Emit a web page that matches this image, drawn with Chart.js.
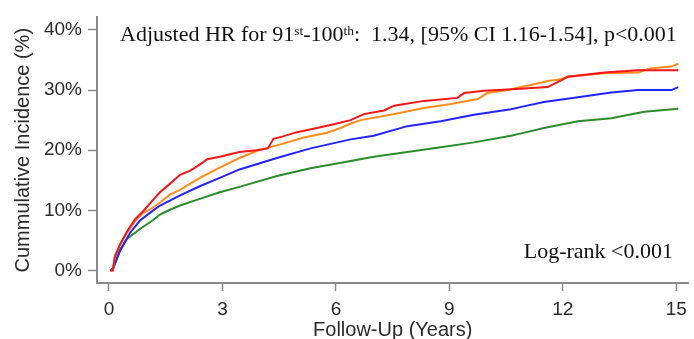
<!DOCTYPE html>
<html>
<head>
  <title>Cumulative incidence</title>
  <script src="https://cdn.jsdelivr.net/npm/chart.js"></script>
</head>
<body style="margin: 0; background: white;">
  <div style="width: 694px; height: 339px; position: relative;">
    <canvas id="kmChart"></canvas>
  </div>
  <script>
    // values (years, %)
    const redT = [0.03, 0.1, 0.16, 0.29, 0.47, 0.69, 0.91, 1.13, 1.35, 1.61, 1.88, 2.15, 2.4, 2.6, 2.93, 3.45, 3.9, 4.2, 4.35, 4.6, 4.97, 5.5, 5.94, 6.39, 6.74, 7.27, 7.54, 8.33, 9.21, 9.39, 9.92, 10.54, 11.6, 11.95, 12.13, 13.1, 13.99, 15.05];
    const redV = [0, 0, 2.4, 4.3, 6.4, 8.5, 9.9, 11.5, 13.0, 14.4, 15.9, 16.6, 17.6, 18.5, 18.9, 19.7, 20.0, 20.3, 21.9, 22.3, 23.0, 23.7, 24.3, 25.0, 26.0, 26.6, 27.4, 28.2, 28.7, 29.5, 29.9, 30.1, 30.5, 31.6, 32.2, 32.9, 33.3, 33.3];

    const orangeT = [0.03, 0.1, 0.16, 0.29, 0.47, 0.69, 0.91, 1.08, 1.35, 1.61, 1.88, 2.4, 2.93, 3.45, 3.92, 4.44, 5.15, 5.77, 6.12, 6.39, 6.65, 7.45, 8.33, 9.04, 9.75, 10.0, 10.54, 11.42, 11.6, 11.95, 12.13, 13.1, 14.0, 14.3, 14.87, 15.05];
    const orangeV = [0, 0, 2.3, 4.2, 6.2, 8.2, 9.6, 10.1, 11.3, 12.6, 13.4, 15.4, 17.1, 18.7, 19.9, 20.8, 22.1, 22.9, 23.7, 24.4, 25.0, 25.9, 27.0, 27.7, 28.5, 29.5, 30.0, 31.2, 31.5, 31.8, 32.2, 32.8, 32.9, 33.6, 33.9, 34.4];

    const blueT = [0.05, 0.12, 0.29, 0.55, 0.82, 1.17, 1.35, 1.61, 1.88, 2.4, 2.93, 3.45, 4.44, 5.33, 6.39, 7.0, 7.89, 8.77, 9.65, 10.63, 10.9, 11.5, 12.4, 13.28, 13.99, 14.87, 15.05];
    const blueV = [0, 0.5, 3.2, 6.2, 8.3, 10.0, 10.8, 11.6, 12.5, 14.0, 15.4, 16.8, 18.7, 20.3, 21.8, 22.4, 24.0, 24.8, 25.9, 26.8, 27.2, 28.0, 28.8, 29.6, 30.0, 30.0, 30.5];

    const greenT = [0.05, 0.12, 0.29, 0.47, 0.82, 1.17, 1.35, 1.61, 1.88, 2.4, 2.93, 3.45, 4.44, 5.33, 6.39, 7.0, 7.89, 8.77, 9.65, 10.63, 10.9, 11.5, 12.4, 13.28, 14.15, 15.05];
    const greenV = [0, 0.5, 3.4, 5.2, 6.9, 8.4, 9.3, 10.1, 10.8, 11.9, 13.0, 13.9, 15.7, 17.0, 18.2, 18.9, 19.7, 20.5, 21.3, 22.4, 22.8, 23.7, 24.8, 25.3, 26.4, 26.9];

    const xTicks = [0, 3, 6, 9, 12, 15];
    const yTicks = [0, 10, 20, 30, 40];

    const pts = (ts, vs) => ts.map((t, i) => ({ x: t, y: vs[i] }));

    const sansFont = '"Liberation Sans", Arial, sans-serif';
    const serifFont = '"Liberation Serif", "Times New Roman", serif';
    const axisGray = '#8a8a8a';

    // text notes drawn on the plot
    const notes = {
      id: 'notes',
      afterDraw(chart) {
        const ctx = chart.ctx;
        ctx.save();
        ctx.fillStyle = '#111';
        ctx.textBaseline = 'alphabetic';
        ctx.textAlign = 'left';
        const base = 41;
        let x = 120;
        const parts = [
          ['Adjusted HR for 91', false],
          ['st', true],
          ['-100', false],
          ['th', true],
          [':  1.34, [95% CI 1.16-1.54], p<0.001', false]
        ];
        parts.forEach(([txt, sup]) => {
          ctx.font = (sup ? '13.5px ' : '22px ') + serifFont;
          ctx.fillText(txt, x, sup ? base - 6 : base);
          x += ctx.measureText(txt).width;
        });
        ctx.font = '22px ' + serifFont;
        ctx.textAlign = 'right';
        ctx.fillText('Log-rank <0.001', 673, 258);
        ctx.restore();
      }
    };

    new Chart(document.getElementById('kmChart'), {
      type: 'line',
      data: {
        datasets: [
          { data: pts(redT, redV), borderColor: '#f81414' },
          { data: pts(orangeT, orangeV), borderColor: '#ff8c1a' },
          { data: pts(blueT, blueV), borderColor: '#2323ff' },
          { data: pts(greenT, greenV), borderColor: '#2a8c2a' }
        ]
      },
      options: {
        responsive: true,
        maintainAspectRatio: false,
        animation: false,
        layout: { padding: { top: 7, right: 4, left: 0, bottom: 0 } },
        elements: {
          line: { borderWidth: 2, tension: 0 },
          point: { radius: 0 }
        },
        plugins: { legend: { display: false }, tooltip: { enabled: false } },
        scales: {
          x: {
            type: 'linear',
            min: -0.316,
            max: 15.32,
            afterBuildTicks: s => { s.ticks = xTicks.map(v => ({ value: v })); },
            afterFit: s => { s.height = 56; },
            grid: { drawOnChartArea: false, drawTicks: true, tickLength: 8, tickColor: axisGray, tickWidth: 1.5 },
            border: { display: true, color: axisGray, width: 2 },
            ticks: { color: '#2b2b2b', padding: 7, font: { family: sansFont, size: 19 }, maxRotation: 0 },
            title: {
              display: true,
              text: 'Follow-Up (Years)',
              color: '#2b2b2b',
              font: { family: sansFont, size: 20, lineHeight: 0.9 },
              padding: { top: 0, bottom: 0 }
            }
          },
          y: {
            min: -2.08,
            max: 42.08,
            afterBuildTicks: s => { s.ticks = yTicks.map(v => ({ value: v })); },
            afterFit: s => { s.width = 97; },
            grid: { drawOnChartArea: false, drawTicks: true, tickLength: 9, tickColor: axisGray, tickWidth: 1.5 },
            border: { display: true, color: axisGray, width: 2 },
            ticks: { color: '#2b2b2b', padding: 6, font: { family: sansFont, size: 19 }, callback: v => v + '%' },
            title: {
              display: true,
              text: 'Cummulative Incidence (%)',
              color: '#2b2b2b',
              font: { family: sansFont, size: 20, lineHeight: 1 },
              padding: { top: 13, bottom: 0 }
            }
          }
        }
      },
      plugins: [notes]
    });
  </script>
</body>
</html>
